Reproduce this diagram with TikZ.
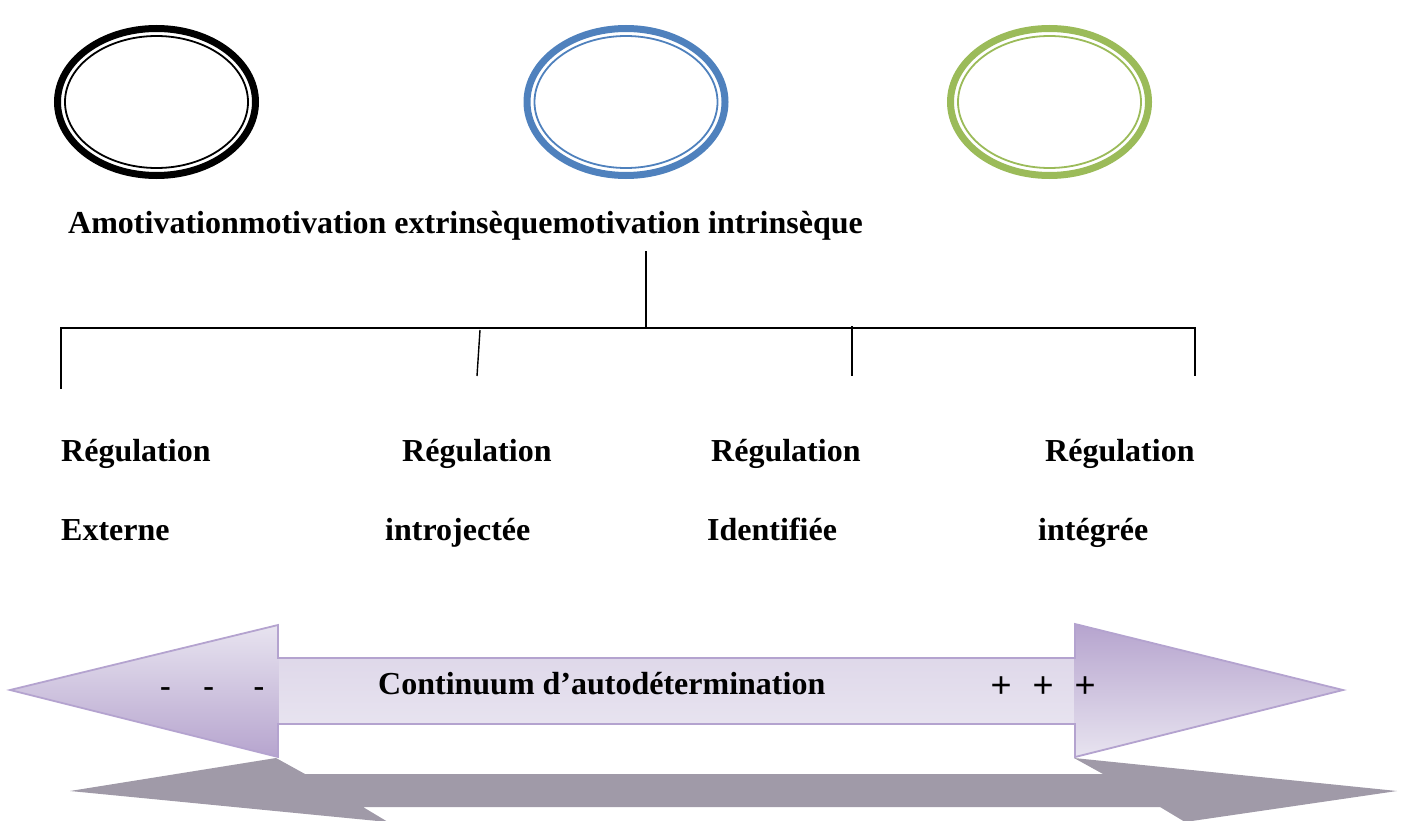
\documentclass[tikz,border=0pt]{standalone}
\usepackage{fontspec}
\setmainfont{Liberation Serif}
\newfontfamily\plusfont{Liberation Sans}
\usetikzlibrary{shapes.geometric}
\definecolor{ellblue}{HTML}{4F81BD}
\definecolor{ellgreen}{HTML}{9BBB59}
\definecolor{arrline}{HTML}{B4A3CF}
\definecolor{arrlight}{HTML}{E8E4F0}
\definecolor{arrmid}{HTML}{DED7E9}
\definecolor{arrdark}{HTML}{B6A4CE}
\definecolor{shadowgray}{HTML}{A09AA8}
\begin{document}
\begin{tikzpicture}[x=1pt,y=-1pt,
  lbl/.style={font=\fontsize{32}{37}\selectfont\bfseries, inner sep=0pt, anchor=base west},
  outerring/.style={ellipse, draw=#1, line width=7pt, minimum width=198pt, minimum height=147pt, inner sep=0pt},
  innerring/.style={ellipse, draw=#1, line width=1.8pt, minimum width=183pt, minimum height=132pt, inner sep=0pt},
  conn/.style={line width=1.4pt, black}]
\useasboundingbox (0,0) rectangle (1404,821);

% ellipses
\node[outerring=black] (e1o) at (156.5,102) {};
\node[innerring=black] (e1i) at (156.5,102) {};
\node[outerring=ellblue] (e2o) at (626,102) {};
\node[innerring=ellblue] (e2i) at (626,102) {};
\node[outerring=ellgreen] (e3o) at (1049.5,102) {};
\node[innerring=ellgreen] (e3i) at (1049.5,102) {};

% title
\node[lbl] (title) at (68,233) {Amotivationmotivation extrinsèquemotivation intrinsèque};

% connectors
\coordinate (ctop) at (646,251);
\coordinate (cbus) at (646,327);
\coordinate (busL) at (60,328);
\coordinate (busR) at (1196,328);
\coordinate (d1a) at (61,328);  \coordinate (d1b) at (61,389);
\coordinate (d2a) at (480,330); \coordinate (d2b) at (477,376);
\coordinate (d3a) at (852,326); \coordinate (d3b) at (852,376);
\coordinate (d4a) at (1195,328); \coordinate (d4b) at (1195,376);
\draw[conn] (ctop) -- (cbus);
\draw[conn] (busL) -- (busR);
\draw[conn] (d1a) -- (d1b);
\draw[conn] (d2a) -- (d2b);
\draw[conn] (d3a) -- (d3b);
\draw[conn] (d4a) -- (d4b);

% labels
\node[lbl] (r1) at (61,461) {Régulation};
\node[lbl] (r2) at (402,461) {Régulation};
\node[lbl] (r3) at (711,461) {Régulation};
\node[lbl] (r4) at (1045,461) {Régulation};
\node[lbl] (s1) at (61,540) {Externe};
\node[lbl] (s2) at (385,540) {introjectée};
\node[lbl] (s3) at (707,540) {Identifiée};
\node[lbl] (s4) at (1038,540) {intégrée};

% shadow
\fill[shadowgray] (70,791) -- (276,758) -- (305,774) -- (1103,774) -- (1074,758) -- (1397,791)
  -- (1185,822) -- (1160,807) -- (363,807) -- (388,822) -- cycle;

% arrow
\begin{scope}
  \clip (10,690) -- (278,625) -- (278,658) -- (1075,658) -- (1075,624) -- (1343,690)
    -- (1075,757) -- (1075,724) -- (278,724) -- (278,757) -- cycle;
  \shade[top color=arrmid, bottom color=arrlight] (0,650) rectangle (1404,730);
  \shade[top color=arrlight, bottom color=arrdark] (0,624) rectangle (278.5,758);
  \shade[top color=arrdark, bottom color=arrlight] (1074.5,624) rectangle (1404,758);
\end{scope}
\draw[arrline, line width=1.8pt, line join=miter] (10,690) -- (278,625) -- (278,658) -- (1075,658) -- (1075,624) -- (1343,690)
    -- (1075,757) -- (1075,724) -- (278,724) -- (278,757) -- cycle;

\node[lbl] (minus) at (160,696) {-\hspace{32.5pt}-\hspace{39.5pt}-};
\node[lbl] (cont) at (378,694) {Continuum d’autodétermination};
\node[inner sep=0pt, anchor=base west, font=\plusfont\fontsize{36}{40}\selectfont] (plus) at (990.5,697) {+\hspace{21pt}+\hspace{21pt}+};
\end{tikzpicture}
\end{document}
